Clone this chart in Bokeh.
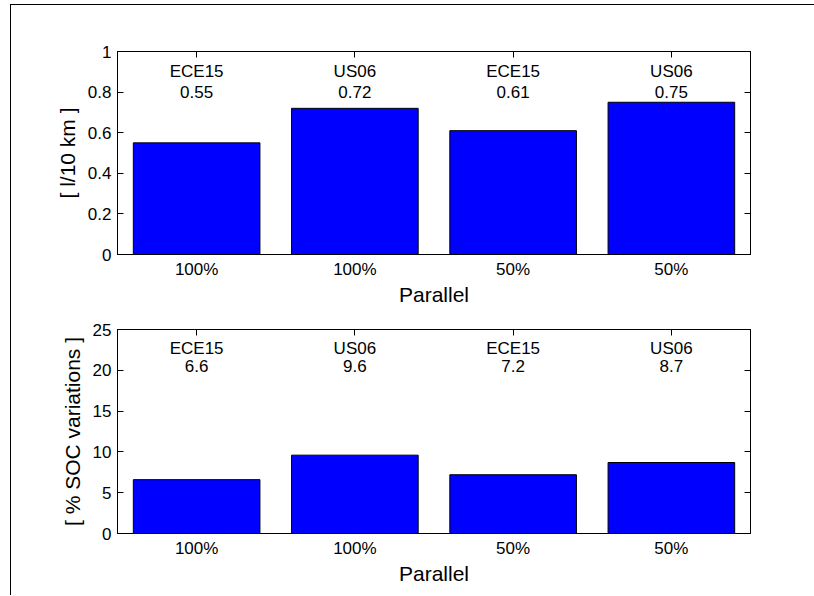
from bokeh.plotting import figure
from bokeh.models import (Range1d, FixedTicker, LinearAxis, NumeralTickFormatter,
                          CustomJSTickFormatter, ColumnDataSource)
from bokeh.layouts import column
from bokeh.embed import file_html
from bokeh.resources import INLINE
from bokeh.core.properties import value

# ---- data ----
cycles = ["ECE15", "US06", "ECE15", "US06"]
hybrid = ["100%", "100%", "50%", "50%"]
fuel = [0.55, 0.72, 0.61, 0.75]
soc = [6.6, 9.6, 7.2, 8.7]
fuel_labels = ["0.55", "0.72", "0.61", "0.75"]
soc_labels = ["6.6", "9.6", "7.2", "8.7"]
fuel_yticks = [0, 0.2, 0.4, 0.6, 0.8, 1]
soc_yticks = [0, 5, 10, 15, 20, 25]
xlabel = "Parallel"
fuel_ylabel = "[ l/10 km ]"
soc_ylabel = "[ % SOC variations ]"

FONT = "Liberation Sans"
xs = [i + 1 for i in range(len(cycles))]
overrides = {x: h for x, h in zip(xs, hybrid)}


def make_panel(vals, labels, yticks, ymax, ylabel, name_frac, val_frac,
               height, top, bottom):
    p = figure(width=803, height=height, output_backend="svg",
               toolbar_location=None, x_range=Range1d(0.5, 4.5),
               y_range=Range1d(0, ymax), x_axis_location=None,
               y_axis_location=None, min_border_left=106,
               min_border_right=64, min_border_top=top,
               min_border_bottom=bottom)
    p.xgrid.visible = False
    p.ygrid.visible = False
    p.outline_line_color = "black"
    p.outline_line_width = 1
    p.background_fill_color = "white"
    p.border_fill_color = "white"

    src = ColumnDataSource(dict(x=xs, top=vals, name=cycles, lab=labels,
                                yn=[ymax * name_frac] * len(xs),
                                yv=[ymax * val_frac] * len(xs)))
    p.vbar(x="x", top="top", bottom=0, width=0.8, source=src,
           fill_color="#0000FF", line_color="black", line_width=1)
    p.text(x="x", y="yn", text="name", source=src, text_align="center",
           text_baseline="middle", text_font=value(FONT),
           text_font_size="17px", text_color="black")
    p.text(x="x", y="yv", text="lab", source=src, text_align="center",
           text_baseline="middle", text_font=value(FONT),
           text_font_size="17px", text_color="black")

    def style(ax):
        ax.major_tick_in = 6
        ax.major_tick_out = 0
        ax.minor_tick_in = 0
        ax.minor_tick_out = 0
        ax.axis_line_color = "black"
        ax.major_tick_line_color = "black"
        ax.major_label_text_font = FONT
        ax.major_label_text_font_size = "17px"
        ax.major_label_text_color = "black"
        ax.axis_label_text_font = FONT
        ax.axis_label_text_font_size = "21px"
        ax.axis_label_text_font_style = "normal"
        ax.axis_label_text_color = "black"

    xb = LinearAxis(ticker=FixedTicker(ticks=xs), major_label_overrides=overrides,
                    axis_label=xlabel)
    style(xb)
    xb.major_tick_in = 0
    xb.major_label_standoff = 5
    xb.axis_label_standoff = 1
    p.add_layout(xb, "below")

    xt = LinearAxis(ticker=FixedTicker(ticks=xs),
                    formatter=CustomJSTickFormatter(code="return ''"))
    style(xt)
    xt.major_label_standoff = 0
    p.add_layout(xt, "above")

    yl = LinearAxis(ticker=FixedTicker(ticks=yticks),
                    formatter=NumeralTickFormatter(format="0.[0]"),
                    axis_label=ylabel)
    style(yl)
    yl.major_label_standoff = 6
    yl.axis_label_standoff = 6
    p.add_layout(yl, "left")

    yr = LinearAxis(ticker=FixedTicker(ticks=yticks),
                    formatter=CustomJSTickFormatter(code="return ''"))
    style(yr)
    yr.major_label_standoff = 0
    p.add_layout(yr, "right")
    return p


p1 = make_panel(fuel, fuel_labels, fuel_yticks, 1.0, fuel_ylabel,
                0.90, 0.80, 310, 46, 61)
p2 = make_panel(soc, soc_labels, soc_yticks, 25.0, soc_ylabel,
                0.908, 0.82, 280, 14, 62)

layout = column(p1, p2, spacing=0,
                styles={"border-left": "1px solid black",
                        "border-top": "1px solid black",
                        "margin-left": "10px",
                        "margin-top": "4px"})

open("out.html", "w").write(file_html(layout, INLINE))
